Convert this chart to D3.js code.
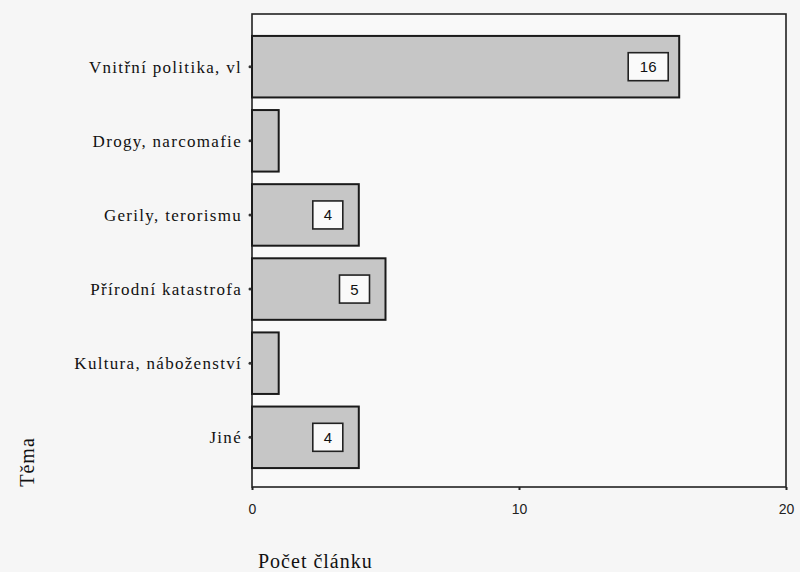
<!DOCTYPE html>
<html>
<head>
<meta charset="utf-8">
<script src="https://cdn.jsdelivr.net/npm/d3@7"></script>
<style>
  body { margin: 0; background: #f6f6f6; }
  svg { display: block; }
  .cat { font-family: "Liberation Serif", "DejaVu Serif", serif; font-size: 17px; letter-spacing: 1.3px; fill: #111; }
  .tick text { font-family: "Liberation Sans", Arial, sans-serif; font-size: 14px; fill: #222; }
  .title { font-family: "Liberation Serif", serif; font-size: 20px; letter-spacing: 1px; fill: #111; }
  .val { font-family: "Liberation Sans", Arial, sans-serif; font-size: 15px; fill: #111; }
</style>
</head>
<body>
<div id="chart"></div>
<script>
// data
var topics = ['Vnitřní politika, vl', 'Drogy, narcomafie', 'Gerily, terorismu',
  'Přírodní katastrofa', 'Kultura, náboženství', 'Jiné'];
var counts = [16, 1, 4, 5, 1, 4];
var labelled = [true, false, true, true, false, true];
var xTicks = [0, 10, 20];

var svgWidth = 800, svgHeight = 572;
var frame = { left: 252, right: 786, top: 14, bottom: 487 };

var svg = d3.select('#chart').append('svg')
  .attr('width', svgWidth)
  .attr('height', svgHeight);

var x = d3.scaleLinear().domain([0, 20]).range([frame.left, frame.right]);
var y = d3.scaleBand().domain(topics)
  .range([30, 474])
  .paddingInner(0.17)
  .paddingOuter(0.08);

// plot frame
svg.append('rect')
  .attr('x', frame.left).attr('y', frame.top)
  .attr('width', frame.right - frame.left)
  .attr('height', frame.bottom - frame.top)
  .attr('fill', '#f9f9f9')
  .attr('stroke', '#222').attr('stroke-width', 1.6);

// bars
svg.selectAll('rect.bar')
  .data(topics)
  .enter().append('rect')
  .attr('class', 'bar')
  .attr('x', x(0))
  .attr('y', d => y(d))
  .attr('width', (d, i) => x(counts[i]) - x(0))
  .attr('height', y.bandwidth())
  .attr('fill', '#c6c6c6')
  .attr('stroke', '#1a1a1a')
  .attr('stroke-width', 2);

// value boxes
var boxes = svg.selectAll('g.val')
  .data(topics.filter((d, i) => labelled[i]))
  .enter().append('g')
  .attr('class', 'val');

boxes.each(function(d) {
  var i = topics.indexOf(d);
  var txt = String(counts[i]);
  var w = txt.length > 1 ? 40 : 30;
  var cx = x(counts[i]) - 31;
  var cy = y(d) + y.bandwidth() / 2;
  var g = d3.select(this);
  g.append('rect')
    .attr('x', cx - w / 2).attr('y', cy - 14)
    .attr('width', w).attr('height', 28)
    .attr('fill', '#fafafa')
    .attr('stroke', '#222').attr('stroke-width', 1.6);
  g.append('text')
    .attr('x', cx).attr('y', cy + 5.5)
    .attr('text-anchor', 'middle')
    .text(txt);
});

// y axis tick dots + labels
svg.selectAll('circle.ytick')
  .data(topics)
  .enter().append('circle')
  .attr('cx', frame.left - 2)
  .attr('cy', d => y(d) + y.bandwidth() / 2)
  .attr('r', 1.5)
  .attr('fill', '#333');

svg.selectAll('text.cat')
  .data(topics)
  .enter().append('text')
  .attr('class', 'cat')
  .attr('x', frame.left - 10)
  .attr('y', d => y(d) + y.bandwidth() / 2 + 6)
  .attr('text-anchor', 'end')
  .text(d => d);

// x axis
var bottomAxis = d3.axisBottom(x).tickValues(xTicks).tickSize(3).tickPadding(14);
var xg = svg.append('g')
  .attr('transform', `translate(0,${frame.bottom})`)
  .call(bottomAxis);
xg.select('.domain').remove();
xg.selectAll('.tick line').attr('stroke', '#222').attr('stroke-width', 2);

// axis titles
svg.append('text')
  .attr('class', 'title')
  .attr('x', 258).attr('y', 568)
  .text('Počet článku');

svg.append('text')
  .attr('class', 'title')
  .attr('transform', 'translate(34,462) rotate(-90)')
  .attr('text-anchor', 'middle')
  .text('Těma');
</script>
</body>
</html>
